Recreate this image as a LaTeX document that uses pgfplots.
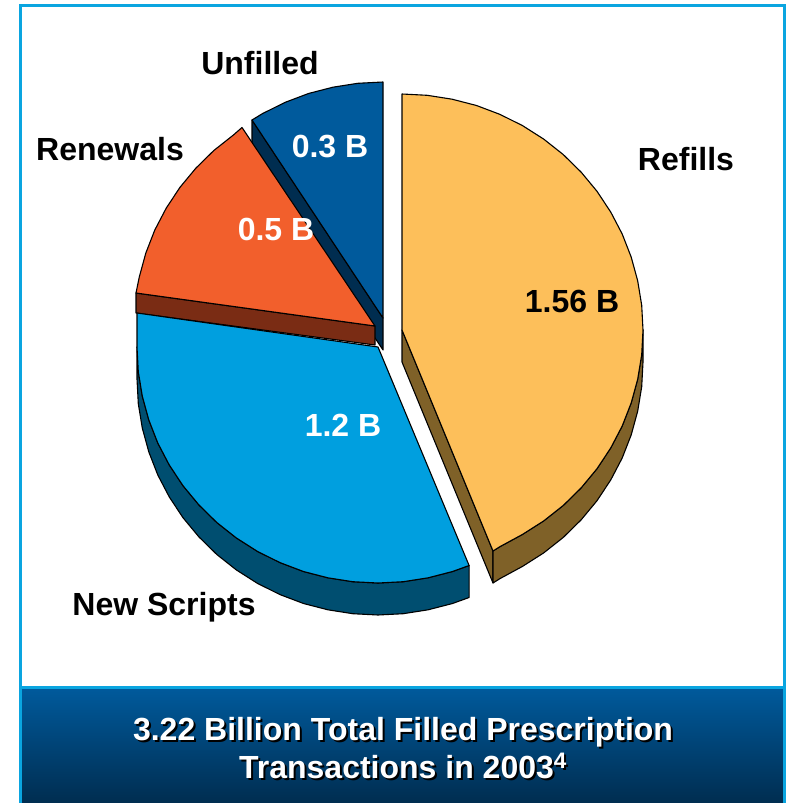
\documentclass[border=0pt]{standalone}
\usepackage{pgfplots}
\pgfplotsset{compat=1.18}
\usepackage{fontspec}
\setmainfont{Liberation Sans}
\definecolor{framec}{HTML}{0AA5E0}
\definecolor{refills}{HTML}{FDBF5A}
\definecolor{refillsd}{HTML}{7F6128}
\definecolor{newscr}{HTML}{009FDF}
\definecolor{newscrd}{HTML}{004E70}
\definecolor{renew}{HTML}{F25F2C}
\definecolor{renewd}{HTML}{7A2C14}
\definecolor{unfill}{HTML}{005A9C}
\definecolor{unfilld}{HTML}{002D50}
\tikzset{lab/.style={anchor=base, font=\fontsize{32}{36}\selectfont\bfseries}}
\begin{document}
\begin{tikzpicture}
\begin{axis}[
  scale only axis,
  width=786pt,
  height=803pt,
  xmin=0, xmax=786,
  ymin=0, ymax=803,
  y dir=reverse,
  hide axis,
  clip=true,
  every axis plot/.append style={draw=black, line width=1.1pt, line join=round, mark=none},
]
% white page, so the picture keeps its full size
\fill[white] (axis cs:0,0) rectangle (axis cs:786,803);
% frame and title band
\fill[top color=unfill, bottom color=unfilld] (axis cs:20,688) rectangle (axis cs:786,803);
\draw[framec, line width=3pt] (axis cs:20.5,803) -- (axis cs:20.5,5.5) -- (axis cs:784.5,5.5) -- (axis cs:784.5,803);
\draw[framec, line width=3pt] (axis cs:20.5,687.5) -- (axis cs:784.5,687.5);

% Unfilled
\addplot[fill=unfilld] coordinates {(252,120) (383,318) (383,350) (252,152)} --cycle;
\addplot[fill=unfill] coordinates {(383,318) (252,120) (262.5,113.6) (285,102.4) (308.5,93.5) (332.9,87.2) (357.8,83.3) (383,82)} --cycle;

% Renewals
\addplot[fill=renewd] coordinates {(136,293) (375,326) (375,345) (136,313)} --cycle;
\addplot[fill=renew] coordinates {(375,326) (136,293) (139.3,276.9) (145.8,253.1) (154.8,230) (166.3,208) (180,187.3) (195.9,168.1) (213.7,150.6) (233.3,135.1) (242,127.5)} --cycle;

% New Scripts
\addplot[fill=newscrd] coordinates {
  (469.1,565.5) (452.5,571.5) (428.1,577.8) (403.2,581.7) (378,583) (352.8,581.7) (327.9,577.8) (303.5,571.5)
  (280,562.6) (257.5,551.4) (236.3,537.9) (216.7,522.4) (198.9,504.9) (183,485.7) (169.3,465) (157.8,443)
  (148.8,419.9) (142.3,396.1) (138.3,371.7) (137,347)
  (137,379) (138.3,403.7) (142.3,428.1) (148.8,451.9) (157.8,475) (169.3,497) (183,517.7) (198.9,536.9)
  (216.7,554.4) (236.3,569.9) (257.5,583.4) (280,594.6) (303.5,603.5) (327.9,609.8) (352.8,613.7) (378,615)
  (403.2,613.7) (428.1,609.8) (452.5,603.5) (469.1,597.5)} --cycle;
\addplot[fill=newscr] coordinates {
  (378,347) (469.1,565.5) (452.5,571.5) (428.1,577.8) (403.2,581.7) (378,583) (352.8,581.7) (327.9,577.8)
  (303.5,571.5) (280,562.6) (257.5,551.4) (236.3,537.9) (216.7,522.4) (198.9,504.9) (183,485.7) (169.3,465)
  (157.8,443) (148.8,419.9) (142.3,396.1) (138.3,371.7) (137,347) (137,330) (137,313)} --cycle;

% Refills
\addplot[fill=refillsd] coordinates {(402,330) (402,362) (493,583) (493,551)} --cycle;
\addplot[fill=refillsd] coordinates {
  (493,551) (500,546.6) (522.5,534.4) (543.7,520.9) (563.3,505.4) (581.1,487.9) (597,468.7) (610.7,448)
  (622.2,426) (631.2,402.9) (637.7,379.1) (641.7,354.7) (643,330)
  (643,362) (641.7,386.7) (637.7,411.1) (631.2,434.9) (622.2,458) (610.7,480) (597,500.7) (581.1,519.9)
  (563.3,537.4) (543.7,552.9) (522.5,566.4) (500,578.6) (493,583)} --cycle;
\addplot[fill=refills] coordinates {
  (402,330) (402,94) (427.2,95.3) (452.1,99.2) (476.5,105.5) (500,114.4) (522.5,125.6) (543.7,139.1) (563.3,154.6)
  (581.1,172.1) (597,191.3) (610.7,212) (622.2,234) (631.2,257.1) (637.7,280.9) (641.7,305.3) (643,330)
  (641.7,354.7) (637.7,379.1) (631.2,402.9) (622.2,426) (610.7,448) (597,468.7) (581.1,487.9) (563.3,505.4)
  (543.7,520.9) (522.5,534.4) (500,546.6) (493,551)} --cycle;

% labels
\node[lab] at (axis cs:260,74) {Unfilled};
\node[lab] at (axis cs:110,160) {Renewals};
\node[lab] at (axis cs:686,170) {Refills};
\node[lab] at (axis cs:164,615) {New Scripts};
\node[lab, white] at (axis cs:330,157) {0.3 B};
\node[lab, white] at (axis cs:276,240) {0.5 B};
\node[lab] at (axis cs:572,312) {1.56 B};
\node[lab, white] at (axis cs:343,436) {1.2 B};

% title with its drop shadow
\node[lab, black] at (axis cs:405,742) {3.22 Billion Total Filled Prescription};
\node[lab, white] at (axis cs:403,740) {3.22 Billion Total Filled Prescription};
\node[lab, black] at (axis cs:405,780) {Transactions in 2003\textsuperscript{4}};
\node[lab, white] at (axis cs:403,778) {Transactions in 2003\textsuperscript{4}};
\end{axis}
\end{tikzpicture}
\end{document}
